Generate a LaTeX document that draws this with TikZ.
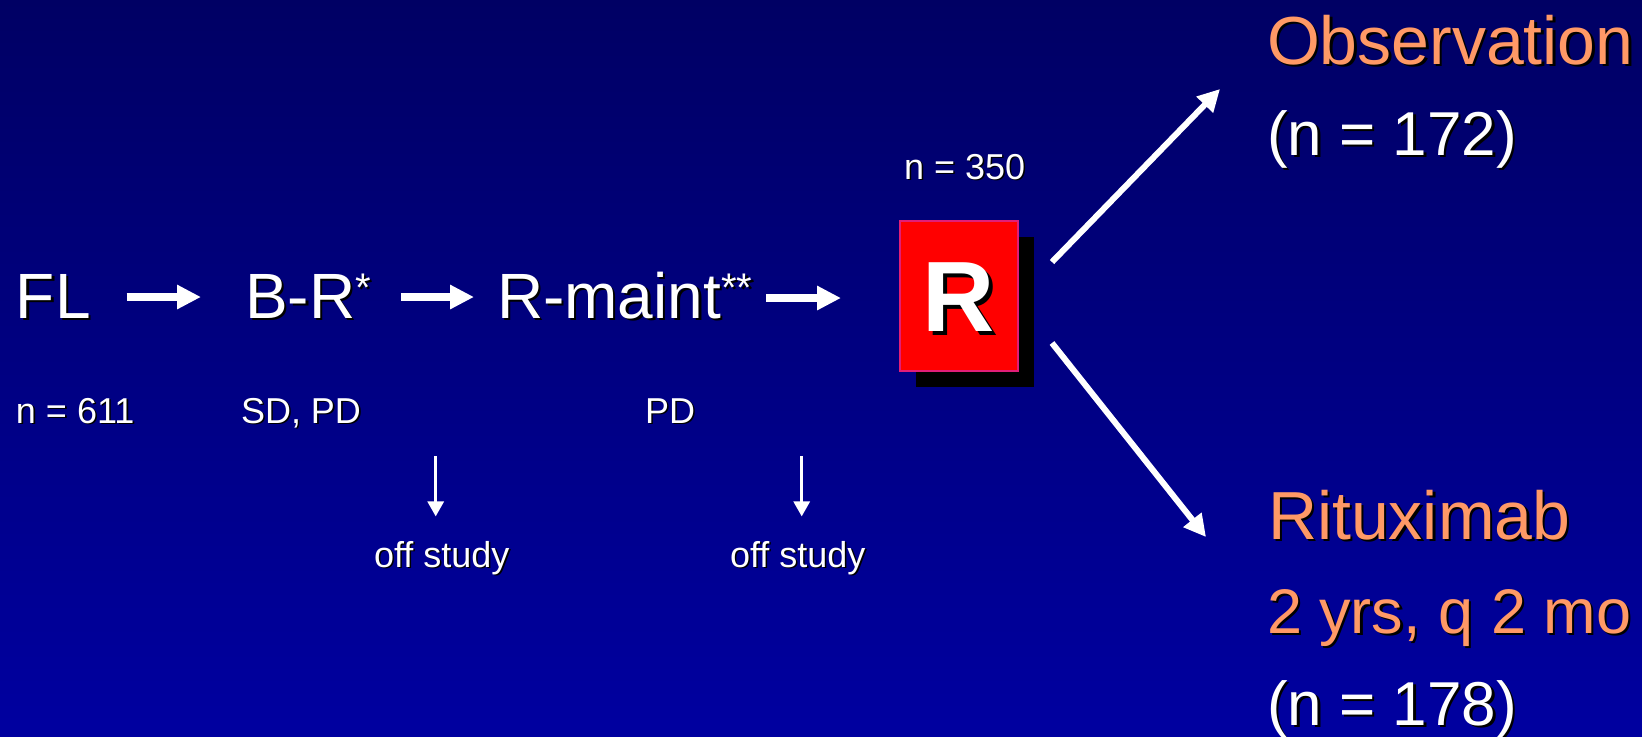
\documentclass[tikz,border=0pt]{standalone}
\usepackage{fontspec}
\setmainfont{Liberation Sans}
\usetikzlibrary{arrows.meta,shadows}

\definecolor{navytop}{RGB}{0,0,100}
\definecolor{navybot}{RGB}{0,0,160}
\definecolor{peach}{RGB}{255,153,102}
\definecolor{rim}{RGB}{225,30,120}

% text with a dark drop shadow behind it
\newcommand\dropped[2][1.2pt]{\leavevmode\rlap{\kern#1\raisebox{-#1}{\color{black}#2}}#2}
% small raised asterisks
\newcommand\starsup[1]{\raisebox{8.5pt}{\fontsize{20}{20}\selectfont#1}}

\begin{document}
\begin{tikzpicture}[x=0.5pt,y=-0.5pt,
  lbl/.style={text=white, inner sep=0pt, outer sep=0pt, anchor=base west},
  big/.style={lbl, font=\fontsize{32}{38}\selectfont},
  small/.style={lbl, font=\fontsize{18}{22}\selectfont},
  armhead/.style={lbl, text=peach, font=\fontsize{34}{40}\selectfont},
  armtext/.style={lbl, text=peach, font=\fontsize{31.5}{38}\selectfont},
  armcount/.style={lbl, font=\fontsize{31}{38}\selectfont},
  rbox/.style={draw=rim, line width=1pt, fill=red, inner sep=0pt, outer sep=0pt,
    minimum width=59pt, minimum height=75pt, text=white, text depth=0pt,
    font=\fontsize{50}{56}\selectfont\bfseries,
    drop shadow={shadow xshift=8pt, shadow yshift=-8pt, fill=black, opacity=1}},
  flow/.style={draw=white, line width=4pt, -{Triangle[length=12pt,width=11.5pt]}},
  split/.style={draw=white, line width=3pt, -{Triangle[length=11pt,width=11pt]}},
  exit/.style={draw=white, line width=1.5pt, -{Triangle[length=7.5pt,width=8pt]}}
]
% background
\shade[top color=navytop, bottom color=navybot] (0,0) rectangle (1642,736);
\useasboundingbox (0,0) rectangle (1642,736);

% main sequence
\node[big] (FL) at (16,318) {\dropped{FL}};
\node[big] (BR) at (245,318) {\dropped{B-R\starsup{*}}};
\node[big] (RM) at (497,318) {\dropped{R-maint\starsup{**}}};
\node[rbox] (R) at (959,296) {\raisebox{-1pt}{\dropped[2pt]{R}}};

% counts and reasons
\node[small] (n611) at (16,423) {\dropped[0.8pt]{n = 611}};
\node[small] (sdpd) at (241,423) {\dropped[0.8pt]{SD, PD}};
\node[small] (pd) at (645,423) {\dropped[0.8pt]{PD}};
\node[small] (n350) at (904,179) {\dropped[0.8pt]{n = 350}};
\node[small] (off1) at (374,567) {\dropped[0.8pt]{off study}};
\node[small] (off2) at (730,567) {\dropped[0.8pt]{off study}};

% arms
\node[armhead] (obs) at (1267,64) {\dropped{Observation}};
\node[armcount] (n172) at (1267,155) {\dropped{(n = 172)}};
\node[armhead] (rit) at (1268,539) {\dropped{Rituximab}};
\node[armtext] (sched) at (1267,633) {\dropped{2 yrs, q 2 mo}};
\node[armcount] (n178) at (1267,725) {\dropped{(n = 178)}};

% horizontal flow arrows
\draw[flow] ([xshift=18pt,yshift=10.5pt]FL.base east) -- ([xshift=-22pt,yshift=10.5pt]BR.base west);
\draw[flow] ([xshift=15pt,yshift=10.5pt]BR.base east) -- ([xshift=-11.5pt,yshift=10.5pt]RM.base west);
\draw[flow] ([xshift=7pt,yshift=10pt]RM.base east) -- ([xshift=-29.5pt,yshift=-1pt]R.west);

% randomisation branches
\draw[split] ([xshift=17pt,yshift=17pt]R.east) -- ([xshift=-23.5pt,yshift=-12.5pt]obs.base west);
\draw[split] ([xshift=17pt,yshift=-23.5pt]R.east) -- ([xshift=-31pt,yshift=1pt]rit.base west);

% drop-outs
\draw[exit] ([xshift=-3pt,yshift=42.25pt]off1.north) -- ([xshift=-3pt,yshift=12.25pt]off1.north);
\draw[exit] ([xshift=2pt,yshift=42.25pt]off2.north) -- ([xshift=2pt,yshift=12.25pt]off2.north);
\end{tikzpicture}
\end{document}
